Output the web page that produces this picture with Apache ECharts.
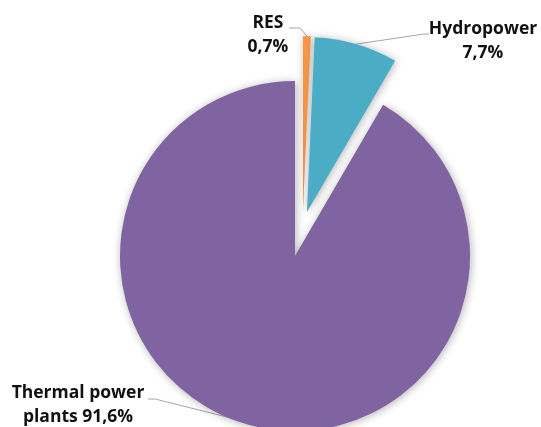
<!DOCTYPE html>
<html>
<head>
<meta charset="utf-8">
<script src="https://cdn.jsdelivr.net/npm/echarts@6/dist/echarts.min.js"></script>
<style>html,body{margin:0;padding:0;background:#fff}#c{width:541px;height:427px}</style>
</head>
<body>
<div id="c"></div>
<script>
const categories = ['RES', 'Hydropower', 'Thermal power plants'];
const shares = [0.7, 7.7, 91.6];
const labelTexts = ['RES\n0,7%', 'Hydropower\n7,7%', 'Thermal power\nplants 91,6%'];
const colors = ['#F79646', '#4BACC6', '#8064A2'];

const centers = [[303, 211], [307, 212], [295, 256]];
const R = 175;
// label placement (label centre, line points)
const labelPos = [
  { x: 268, y: 35, line: (p) => [p, [300, 28], [289, 28]] },
  { x: 483, y: 41, line: (p) => [p, [424, 34], [429, 34]] },
  { x: 78, y: 405, line: () => [[247, 422], [155, 399], [148, 399]] }
];

const chart = echarts.init(document.getElementById('c'), null, { renderer: 'canvas' });
const series = categories.map((cat, i) => ({
  type: 'pie',
  silent: true,
  center: centers[i],
  radius: [0, R],
  startAngle: 90,
  clockwise: true,
  animation: false,
  emphasis: { disabled: true },
  label: {
    show: false,
    formatter: () => labelTexts[i],
    fontFamily: 'Open Sans',
    fontWeight: 'bold',
    fontSize: 17.5,
    lineHeight: 24,
    color: '#111111',
    align: 'center'
  },
  labelLine: { show: false, lineStyle: { color: '#a6a6a6', width: 1 } },
  labelLayout: (params) => {
    const lp = labelPos[i];
    const start = params.labelLinePoints ? params.labelLinePoints[0] : [0, 0];
    return {
      x: lp.x, y: lp.y, align: 'center', verticalAlign: 'middle',
      labelLinePoints: lp.line(start)
    };
  },
  data: categories.map((c, j) => ({
    name: c,
    value: shares[j],
    itemStyle: j === i
      ? { color: colors[j], shadowBlur: 8, shadowColor: 'rgba(0,0,0,0.3)', shadowOffsetX: 1, shadowOffsetY: 1 }
      : { color: 'rgba(0,0,0,0)' },
    label: { show: j === i },
    labelLine: { show: j === i }
  }))
}));

chart.setOption({ backgroundColor: '#ffffff', animation: false, series: series });
</script>
</body>
</html>
